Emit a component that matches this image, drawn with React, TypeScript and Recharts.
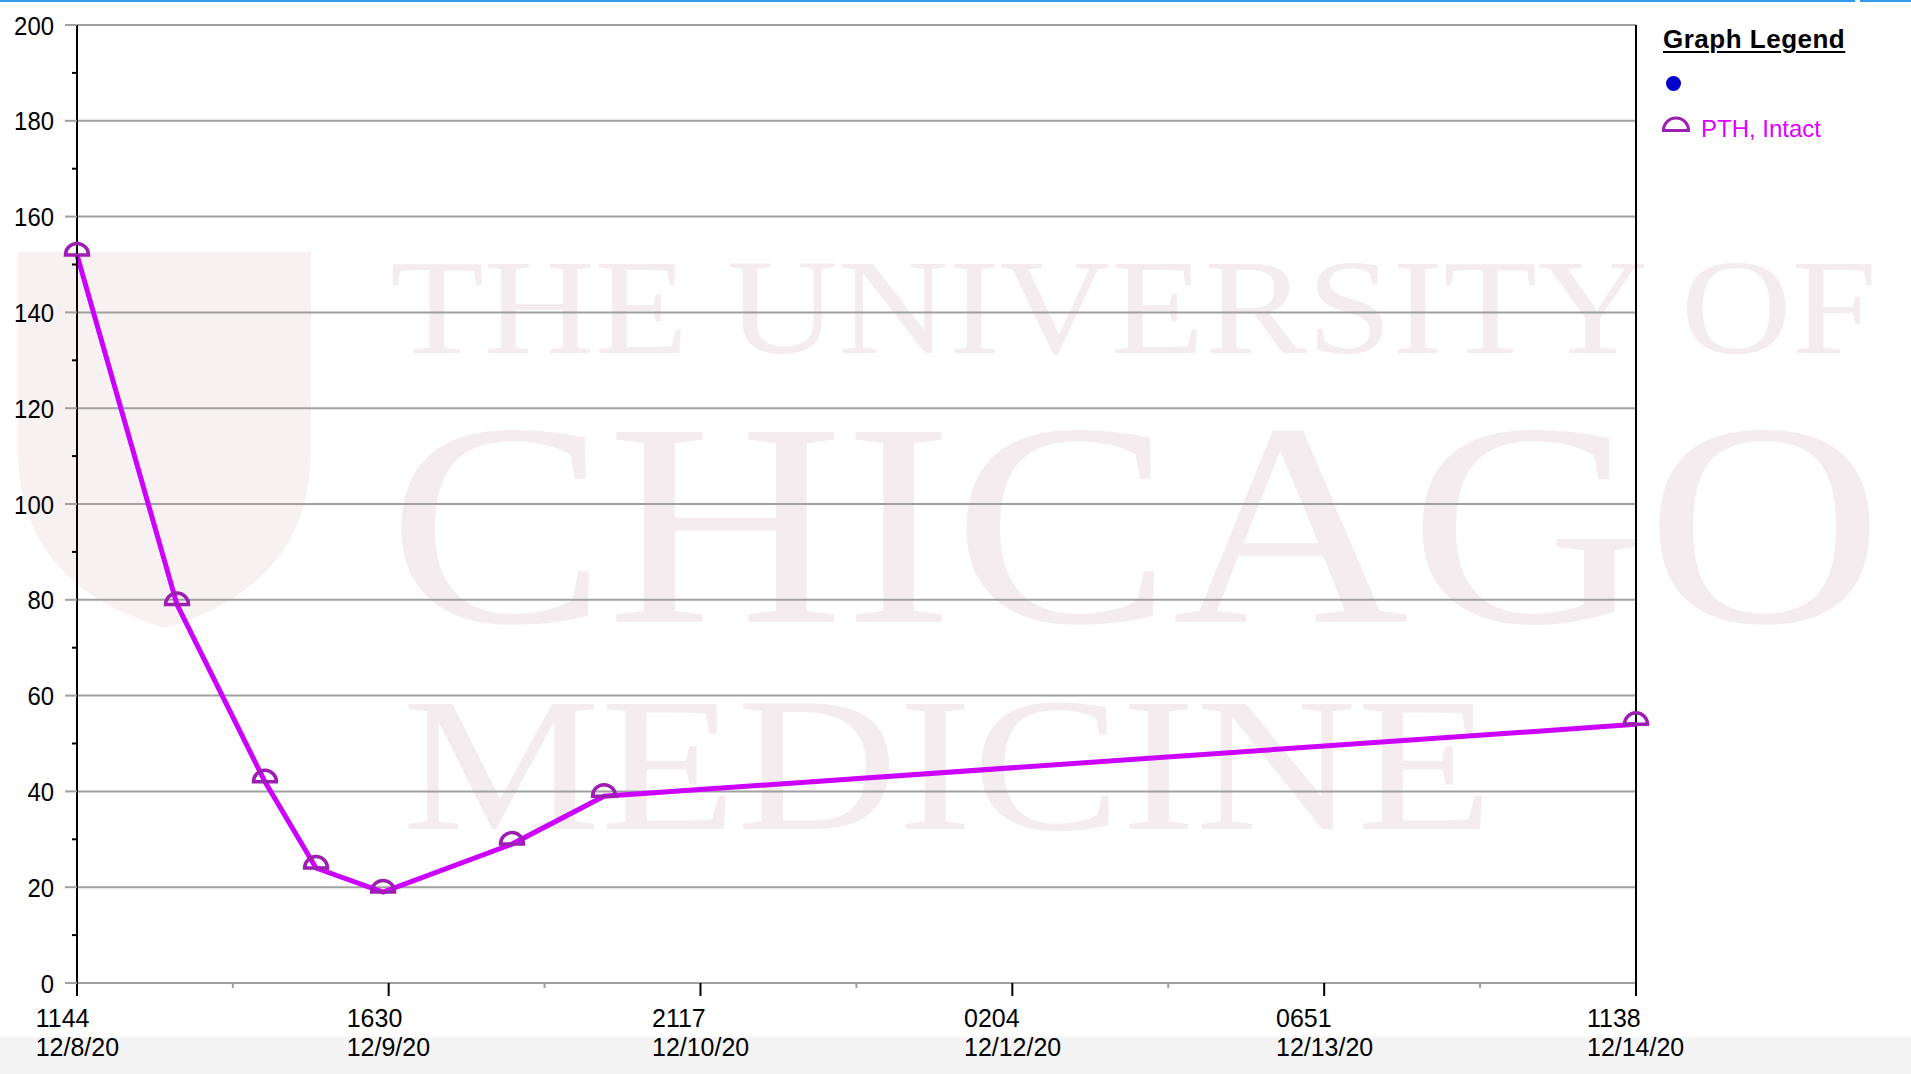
import { LineChart, Line, XAxis, YAxis, CartesianGrid, ReferenceLine } from 'recharts'

// PTH, Intact results (time of draw, value)
const drawTimes = [
  '2020-12-08T11:44',
  '2020-12-08T20:58',
  '2020-12-09T05:05',
  '2020-12-09T09:48',
  '2020-12-09T15:59',
  '2020-12-10T03:53',
  '2020-12-10T12:23',
  '2020-12-14T11:38',
]
const pthValues = [152, 79, 42, 24, 19, 29, 39, 54]

const tickTimes = [
  '2020-12-08T11:44',
  '2020-12-09T16:30',
  '2020-12-10T21:17',
  '2020-12-12T02:04',
  '2020-12-13T06:51',
  '2020-12-14T11:38',
]
const tickTimeLabels = ['1144', '1630', '2117', '0204', '0651', '1138']
const tickDateLabels = ['12/8/20', '12/9/20', '12/10/20', '12/12/20', '12/13/20', '12/14/20']

const yTicks = [0, 10, 20, 30, 40, 50, 60, 70, 80, 90, 100, 110, 120, 130, 140, 150, 160, 170, 180, 190, 200]
const yGridValues = [0, 20, 40, 60, 80, 100, 120, 140, 160, 180, 200]

const toMs = (s: string) => Date.parse(s + ':00Z')

const rows = drawTimes.map((t, i) => ({ t: toMs(t), v: pthValues[i] }))
const majorTicks = tickTimes.map(toMs)
const minorTicks = majorTicks.slice(1).map((m, i) => (m + majorTicks[i]) / 2)
const xTicks = [...majorTicks, ...minorTicks].sort((a, b) => a - b)
const xStart = majorTicks[0]
const xEnd = majorTicks[majorTicks.length - 1]

const LABEL_FONT = '"Liberation Sans", Arial, sans-serif'
const LINE_COLOR = '#cc00ff'
const MARKER_COLOR = '#9c1fb2'

function XTick(props: any) {
  const { x, y, payload } = props
  const idx = majorTicks.indexOf(payload.value)
  if (idx < 0) {
    return <line x1={x} y1={y} x2={x} y2={y + 5} stroke="#a0a0a0" strokeWidth={2} />
  }
  return (
    <g>
      <line x1={x} y1={y} x2={x} y2={y + 13} stroke="#000" strokeWidth={2} />
      <foreignObject x={x - 100} y={y + 21} width={200} height={64}>
        <div style={{ display: 'flex', justifyContent: 'center' }}>
          <div
            style={{
              fontFamily: LABEL_FONT,
              fontSize: 26,
              lineHeight: '29px',
              color: '#000',
              textAlign: 'left',
              whiteSpace: 'nowrap',
              transform: 'scaleX(0.96)',
            }}
          >
            <div>{tickTimeLabels[idx]}</div>
            <div>{tickDateLabels[idx]}</div>
          </div>
        </div>
      </foreignObject>
    </g>
  )
}

function YTick(props: any) {
  const { x, y, payload } = props
  const v = payload.value as number
  if (v % 20 !== 0) {
    return <line x1={x - 5} y1={y} x2={x} y2={y} stroke="#000" strokeWidth={2} />
  }
  return (
    <g>
      <line x1={x - 12} y1={y} x2={x} y2={y} stroke="#a0a0a0" strokeWidth={2} />
      <text
        transform={`translate(${x - 23},${y + 9.5}) scale(0.92,1)`}
        textAnchor="end"
        fontFamily={LABEL_FONT}
        fontSize={26}
        fill="#000"
      >
        {v}
      </text>
    </g>
  )
}

function Dome(props: any) {
  const { cx, cy, index } = props
  if (cx == null || cy == null) return <g key={index} />
  const r = 11.5
  return (
    <path
      key={index}
      d={`M${cx - r},${cy} A${r},${r} 0 0 1 ${cx + r},${cy} Z`}
      fill="none"
      stroke={MARKER_COLOR}
      strokeWidth={3.5}
    />
  )
}

function Watermark() {
  const fill = '#f4ecee'
  return (
    <svg width={1911} height={1074} style={{ position: 'absolute', left: 0, top: 0 }}>
      <path d="M18 252 L311 252 L311 450 Q311 585 165 628 Q18 585 18 450 Z" fill="#f7f1f2" />
      <text x={390} y={353} fontFamily="Liberation Serif, serif" fontSize={136} fill={fill} textLength={1487} lengthAdjust="spacingAndGlyphs">
        THE UNIVERSITY OF
      </text>
      <text x={388} y={622} fontFamily="Liberation Serif, serif" fontSize={290} fill={fill} textLength={1495} lengthAdjust="spacingAndGlyphs">
        CHICAGO
      </text>
      <text x={402} y={829} fontFamily="Liberation Serif, serif" fontSize={190} fill={fill} textLength={1091} lengthAdjust="spacingAndGlyphs">
        MEDICINE
      </text>
    </svg>
  )
}

export default function App() {
  return (
    <div style={{ position: 'relative', width: 1911, height: 1074, overflow: 'hidden', background: '#fff' }}>
      <style>{'body{margin:0}'}</style>
      <div style={{ position: 'absolute', left: 0, top: 1037, width: 1911, height: 37, background: '#f4f4f4' }} />
      <Watermark />
      <div style={{ position: 'absolute', left: 0, top: 0, width: 1855, height: 2, background: '#3399ee' }} />
      <div style={{ position: 'absolute', left: 1860, top: 0, width: 51, height: 2, background: '#3399ee' }} />
      <div style={{ position: 'absolute', left: 0, top: 0 }}>
        <LineChart width={1911} height={1074} data={rows} margin={{ top: 25, right: 275, bottom: 0, left: 0 }}>
          <CartesianGrid vertical={false} horizontalValues={yGridValues} stroke="#a0a0a0" strokeWidth={2} />
          <XAxis
            type="number"
            dataKey="t"
            scale="linear"
            domain={[xStart, xEnd]}
            ticks={xTicks}
            interval={0}
            tick={(p: any) => <XTick {...p} />}
            tickLine={false}
            axisLine={false}
            tickSize={0}
            tickMargin={0}
            height={91}
          />
          <YAxis
            type="number"
            domain={[0, 200]}
            ticks={yTicks}
            interval={0}
            tick={(p: any) => <YTick {...p} />}
            tickLine={false}
            axisLine={{ stroke: '#000', strokeWidth: 2 }}
            tickSize={0}
            tickMargin={0}
            width={77}
          />
          <ReferenceLine x={xEnd} stroke="#000" strokeWidth={2} />
          <Line
            type="linear"
            dataKey="v"
            stroke={LINE_COLOR}
            strokeWidth={5}
            dot={(p: any) => <Dome key={p.index} {...p} />}
            activeDot={false}
            isAnimationActive={false}
          />
        </LineChart>
      </div>
      <div style={{ position: 'absolute', left: 1663, top: 24, fontFamily: '"Liberation Sans", Arial, sans-serif' }}>
        <div
          style={{
            fontSize: 26,
            fontWeight: 'bold',
            letterSpacing: 0.5,
            textDecoration: 'underline',
            textDecorationThickness: 2,
            textUnderlineOffset: 3,
            color: '#000',
            whiteSpace: 'nowrap',
          }}
        >
          Graph Legend
        </div>
        <div style={{ position: 'absolute', left: 3, top: 52, width: 15, height: 15, borderRadius: '50%', background: '#0000cc' }} />
        <svg width={30} height={20} style={{ position: 'absolute', left: -2, top: 89 }}>
          <path d="M2.5,17.5 A12.5,12.5 0 0 1 27.5,17.5 Z" fill="none" stroke={MARKER_COLOR} strokeWidth={3} />
        </svg>
        <div style={{ position: 'absolute', left: 38, top: 91, fontSize: 24, color: '#dd00ff', whiteSpace: 'nowrap' }}>
          PTH, Intact
        </div>
      </div>
    </div>
  )
}
